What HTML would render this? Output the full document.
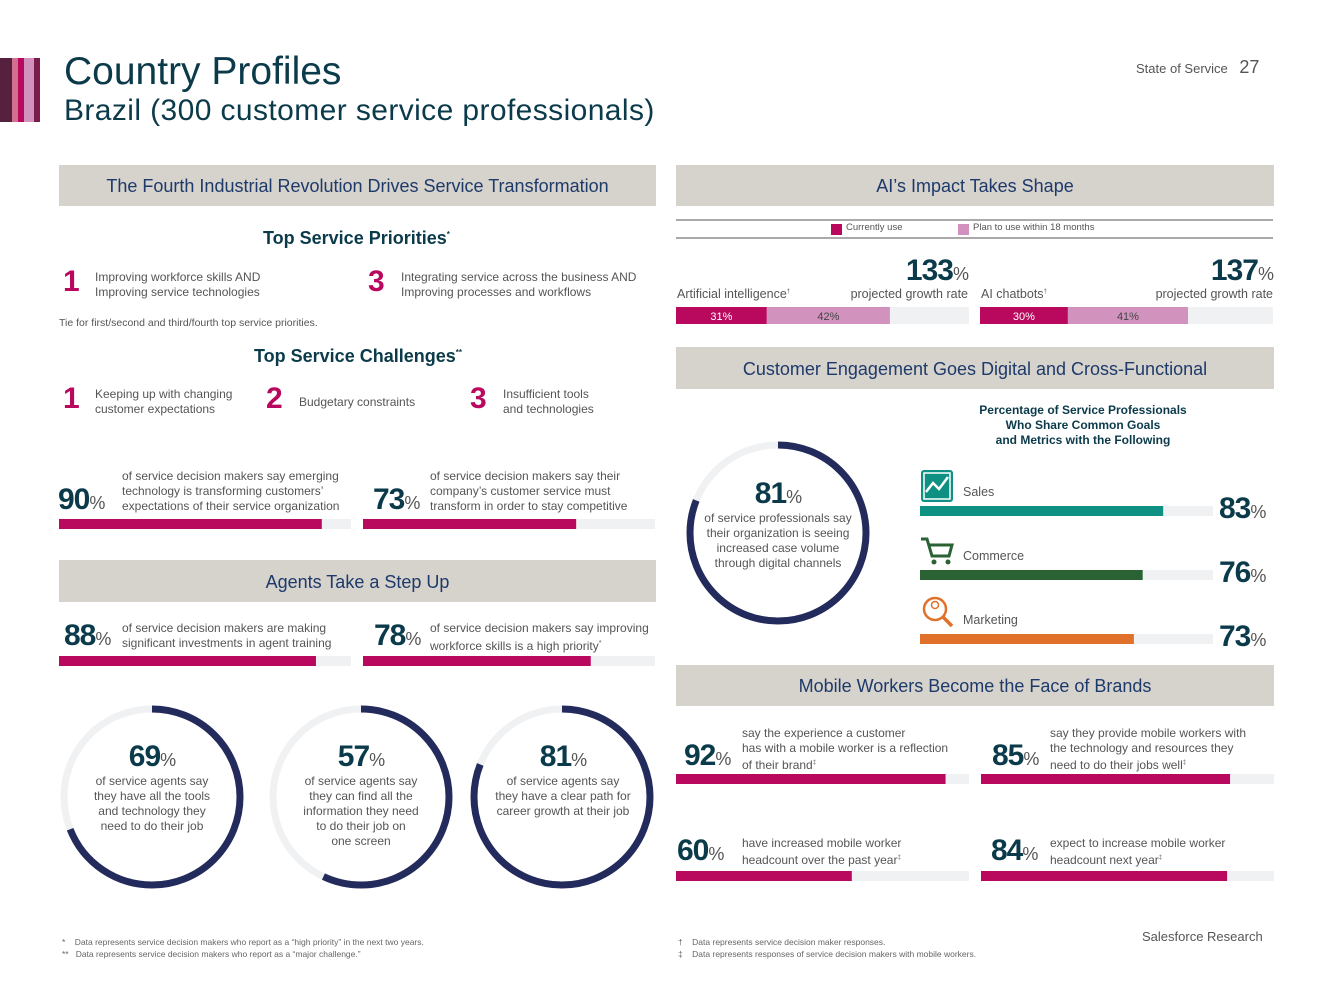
<!DOCTYPE html>
<html><head><meta charset="utf-8">
<style>
*{margin:0;padding:0;box-sizing:border-box}
body{width:1333px;height:1000px;background:#fff;position:relative;overflow:hidden;font-family:"Liberation Sans",sans-serif;color:#555}
.a{position:absolute;white-space:nowrap}
.band{position:absolute;background:#d6d2cc;color:#1d3a6b;font-size:18px;text-align:center}
.big{color:#0b3a4a;font-weight:bold;font-size:30px;letter-spacing:-1px}
.big small{font-size:18px;font-weight:normal;color:#555}
.t{font-size:12px;line-height:15px;color:#555}
.num{color:#b8095f;font-size:30px;font-weight:bold}
.h{color:#0b3a4a;font-weight:bold;font-size:18px}
.fn{font-size:8.5px;color:#666;line-height:12px}
svg{position:absolute;left:0;top:0}
</style></head><body>
<svg id="marks" width="1333" height="1000">
<rect x="0" y="58" width="12" height="64" fill="#55213f"/><rect x="12" y="58" width="6" height="64" fill="#d2708f"/><rect x="18" y="58" width="6" height="64" fill="#b8095f"/><rect x="24" y="58" width="10" height="64" fill="#d193bd"/><rect x="34" y="58" width="6" height="64" fill="#7a1d4a"/>
<line x1="676" y1="220" x2="1273" y2="220" stroke="#555" stroke-width="1"/><line x1="676" y1="238" x2="1273" y2="238" stroke="#555" stroke-width="1"/>
<rect x="831" y="224" width="11" height="11" fill="#b8095f"/><rect x="958" y="224" width="11" height="11" fill="#d193bd"/>
</svg>
<div class="a" style="left:64px;top:50px;font-size:39px;color:#0b3a4a">Country Profiles</div>
<div class="a" style="left:64px;top:94px;font-size:30px;color:#0b3a4a;letter-spacing:0.4px">Brazil (300 customer service professionals)</div>
<div class="a" style="left:1136px;top:57px;font-size:13px;color:#555">State of Service <span style="font-size:18px;margin-left:8px">27</span></div>

<div class="band" style="left:59px;top:165px;width:597px;height:41px;line-height:43px">The Fourth Industrial Revolution Drives Service Transformation</div>
<div class="a h" style="left:263px;top:228px">Top Service Priorities<sup style="font-size:8px">*</sup></div>
<div class="a num" style="left:63px;top:265px">1</div>
<div class="a t" style="left:95px;top:270px">Improving workforce skills AND<br>Improving service technologies</div>
<div class="a num" style="left:368px;top:265px">3</div>
<div class="a t" style="left:401px;top:270px">Integrating service across the business AND<br>Improving processes and workflows</div>
<div class="a" style="left:59px;top:317px;font-size:10.5px;color:#555">Tie for first/second and third/fourth top service priorities.</div>
<div class="a h" style="left:254px;top:346px">Top Service Challenges<sup style="font-size:8px">**</sup></div>
<div class="a num" style="left:63px;top:382px">1</div>
<div class="a t" style="left:95px;top:387px">Keeping up with changing<br>customer expectations</div>
<div class="a num" style="left:266px;top:382px">2</div>
<div class="a t" style="left:299px;top:395px">Budgetary constraints</div>
<div class="a num" style="left:470px;top:382px">3</div>
<div class="a t" style="left:503px;top:387px">Insufficient tools<br>and technologies</div>

<div class="a big" style="left:58px;top:483px">90<small>%</small></div>
<div class="a t" style="left:122px;top:469px">of service decision makers say emerging<br>technology is transforming customers’<br>expectations of their service organization</div>
<div class="a big" style="left:373px;top:483px">73<small>%</small></div>
<div class="a t" style="left:430px;top:469px">of service decision makers say their<br>company’s customer service must<br>transform in order to stay competitive</div>

<div class="band" style="left:59px;top:560px;width:597px;height:42px;line-height:44px">Agents Take a Step Up</div>
<div class="a big" style="left:64px;top:619px">88<small>%</small></div>
<div class="a t" style="left:122px;top:621px">of service decision makers are making<br>significant investments in agent training</div>
<div class="a big" style="left:374px;top:619px">78<small>%</small></div>
<div class="a t" style="left:430px;top:621px">of service decision makers say improving<br>workforce skills is a high priority<sup style="font-size:7px">*</sup></div>

<div class="a" style="left:62px;top:740px;width:180px;text-align:center"><div class="big">69<small>%</small></div><div class="t">of service agents say<br>they have all the tools<br>and technology they<br>need to do their job</div></div>
<div class="a" style="left:271px;top:740px;width:180px;text-align:center"><div class="big">57<small>%</small></div><div class="t">of service agents say<br>they can find all the<br>information they need<br>to do their job on<br>one screen</div></div>
<div class="a" style="left:473px;top:740px;width:180px;text-align:center"><div class="big">81<small>%</small></div><div class="t">of service agents say<br>they have a clear path for<br>career growth at their job</div></div>

<div class="band" style="left:676px;top:165px;width:598px;height:41px;line-height:43px">AI’s Impact Takes Shape</div>
<div class="a" style="left:846px;top:222px;font-size:9.5px">Currently use</div>
<div class="a" style="left:973px;top:222px;font-size:9.5px">Plan to use within 18 months</div>
<div class="a" style="left:677px;top:287px;font-size:12.5px">Artificial intelligence<sup style="font-size:6px">†</sup></div>
<div class="a" style="left:850px;top:254px;width:118px;text-align:right"><span class="big">133<small>%</small></span></div>
<div class="a" style="left:850px;top:287px;width:118px;text-align:right;font-size:12.5px">projected growth rate</div>
<div class="a" style="left:981px;top:287px;font-size:12.5px">AI chatbots<sup style="font-size:6px">†</sup></div>
<div class="a" style="left:1150px;top:254px;width:123px;text-align:right"><span class="big">137<small>%</small></span></div>
<div class="a" style="left:1150px;top:287px;width:123px;text-align:right;font-size:12.5px">projected growth rate</div>

<div class="band" style="left:676px;top:347px;width:598px;height:42px;line-height:44px">Customer Engagement Goes Digital and Cross-Functional</div>
<div class="a" style="left:690px;top:477px;width:176px;text-align:center"><div class="big">81<small>%</small></div><div class="t">of service professionals say<br>their organization is seeing<br>increased case volume<br>through digital channels</div></div>
<div class="a" style="left:960px;top:403px;width:246px;text-align:center;font-size:12px;font-weight:bold;color:#0b3a4a;line-height:15px">Percentage of Service Professionals<br>Who Share Common Goals<br>and Metrics with the Following</div>

<div class="band" style="left:676px;top:665px;width:598px;height:41px;line-height:43px">Mobile Workers Become the Face of Brands</div>
<div class="a big" style="left:684px;top:739px">92<small>%</small></div>
<div class="a t" style="left:742px;top:726px">say the experience a customer<br>has with a mobile worker is a reflection<br>of their brand<sup style="font-size:6px">‡</sup></div>
<div class="a big" style="left:992px;top:739px">85<small>%</small></div>
<div class="a t" style="left:1050px;top:726px">say they provide mobile workers with<br>the technology and resources they<br>need to do their jobs well<sup style="font-size:6px">‡</sup></div>
<div class="a big" style="left:677px;top:834px">60<small>%</small></div>
<div class="a t" style="left:742px;top:836px">have increased mobile worker<br>headcount over the past year<sup style="font-size:6px">‡</sup></div>
<div class="a big" style="left:991px;top:834px">84<small>%</small></div>
<div class="a t" style="left:1050px;top:836px">expect to increase mobile worker<br>headcount next year<sup style="font-size:6px">‡</sup></div>

<div class="a fn" style="left:62px;top:936px">*&nbsp;&nbsp;&nbsp;&nbsp;Data represents service decision makers who report as a “high priority” in the next two years.<br>**&nbsp;&nbsp;&nbsp;Data represents service decision makers who report as a “major challenge.”</div>
<div class="a fn" style="left:678px;top:936px">†&nbsp;&nbsp;&nbsp;&nbsp;Data represents service decision maker responses.<br>‡&nbsp;&nbsp;&nbsp;&nbsp;Data represents responses of service decision makers with mobile workers.</div>
<div class="a" style="left:1142px;top:929px;font-size:13px;color:#555">Salesforce Research</div>

<script>
const statValues=[90,73,88,78];
const aiCategories=["Artificial intelligence","AI chatbots"];
const aiCurrent=[31,30];
const aiPlan=[42,41];
const funcCategories=["Sales","Commerce","Marketing"];
const funcValues=[83,76,73];
const mobileValues=[92,85,60,84];
const donutValues=[81,69,57,81];

const NS="http://www.w3.org/2000/svg";
const svg=document.getElementById('marks');
function el(tag,attrs){const e=document.createElementNS(NS,tag);for(const k in attrs)e.setAttribute(k,attrs[k]);svg.appendChild(e);return e;}
function sx(x0,w,v){return w*v/100;}

function hbar(name,x,y,w,h,v,color){
  const t=el('rect',{x:x,y:y,width:w,height:h,fill:'#f0f1f3'});
  
  
  const f=el('rect',{x:x,y:y,width:sx(x,w,v),height:h,fill:color});
  
  
}
const statPos=[[59,519],[363,519],[59,656],[363,656]];
statValues.forEach((v,i)=>hbar('stat-bar-'+i,statPos[i][0],statPos[i][1],292,10,v,'#b8095f'));

const aiX=[676,980];
aiCategories.forEach((c,i)=>{
  const x=aiX[i],w=293,y=307,h=17;
  const t=el('rect',{x:x,y:y,width:w,height:h,fill:'#f0f1f3'});
  
  
  const cw=sx(x,w,aiCurrent[i]), pw=sx(x,w,aiPlan[i]);
  const a=el('rect',{x:x,y:y,width:cw,height:h,fill:'#b8095f'});
  
  
  const b=el('rect',{x:x+cw,y:y,width:pw,height:h,fill:'#d193bd'});
  
  
  const l1=el('text',{x:x+cw/2,y:y+13,'text-anchor':'middle','font-size':11,fill:'#fff','font-family':'Liberation Sans'});
  l1.textContent=aiCurrent[i]+'%';
  
  
  const l2=el('text',{x:x+cw+pw/2,y:y+13,'text-anchor':'middle','font-size':11,fill:'#444','font-family':'Liberation Sans'});
  l2.textContent=aiPlan[i]+'%';
  
  
});

const funcColors=['#0e9083','#2a6233','#e0712a'];
const funcY=[506,570,634];
funcCategories.forEach((c,i)=>{
  hbar('function-bar-'+c.toLowerCase(),920,funcY[i],293,10,funcValues[i],funcColors[i]);
  const lab=el('text',{x:963,y:funcY[i]-10,'font-size':12.5,fill:'#555','font-family':'Liberation Sans'});
  lab.textContent=c;
  
  
  const v=el('text',{x:1219,y:funcY[i]+12,'font-size':30,'font-weight':'bold',fill:'#0b3a4a','font-family':'Liberation Sans','letter-spacing':'-1'});
  v.textContent=funcValues[i];
  const s=document.createElementNS(NS,'tspan');s.setAttribute('font-size',18);s.setAttribute('font-weight','normal');s.setAttribute('fill','#555');s.textContent='%';v.appendChild(s);
  
  
});
(function(){
  const c=funcColors;
  el('rect',{x:921,y:470,width:32,height:32,rx:3,fill:c[0]});
  el('polyline',{points:'926,492 933,483 939,489 948,477',fill:'none',stroke:'#fff','stroke-width':2.5});
  el('rect',{x:924,y:473,width:26,height:26,fill:'none',stroke:'#fff','stroke-width':1.5});
  el('polyline',{points:'921,539 927,539 932,556 949,556 952,545 929,545',fill:'none',stroke:c[1],'stroke-width':3});
  el('circle',{cx:934,cy:562,r:2.5,fill:c[1]});el('circle',{cx:948,cy:562,r:2.5,fill:c[1]});
  el('circle',{cx:935,cy:609,r:11,fill:'none',stroke:c[2],'stroke-width':2.5});
  el('line',{x1:943,y1:617,x2:952,y2:626,stroke:c[2],'stroke-width':3.5});
  el('circle',{cx:935,cy:605,r:3.5,fill:'none',stroke:c[2],'stroke-width':1.5});
})();

const mobPos=[[676,774],[981,774],[676,871],[981,871]];
mobileValues.forEach((v,i)=>hbar('mobile-bar-'+i,mobPos[i][0],mobPos[i][1],293,10,v,'#b8095f'));

const donutPos=[[778,533],[152,797],[361,797],[562,797]];
donutValues.forEach((v,i)=>{
  const [cx,cy]=donutPos[i],r=88,C=2*Math.PI*r;
  const bg=el('circle',{cx:cx,cy:cy,r:r,fill:'none',stroke:'#f0f1f3','stroke-width':7});
  
  
  const arc=el('circle',{cx:cx,cy:cy,r:r,fill:'none',stroke:'#232a5c','stroke-width':7,
    'stroke-dasharray':(C*v/100)+' '+C,transform:'rotate(-90 '+cx+' '+cy+')'});
  
  
});
</script>
</body></html>
